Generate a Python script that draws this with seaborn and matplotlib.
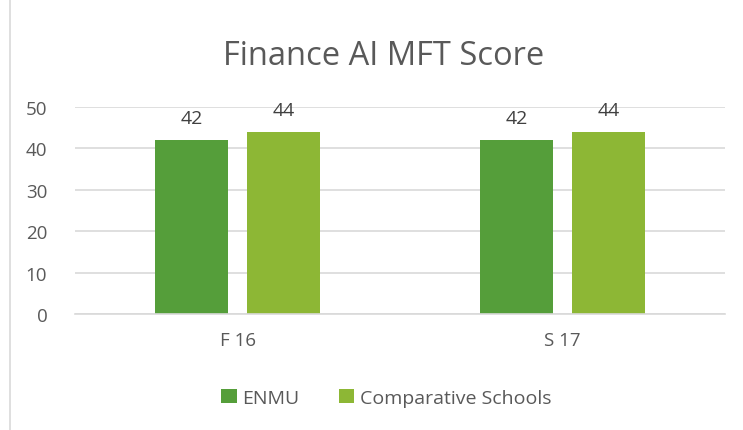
import pandas as pd
import numpy as np
import matplotlib
matplotlib.use('Agg')
import matplotlib.pyplot as plt
import seaborn as sns

# data
terms = ['F 16', 'S 17']
groups = ['ENMU', 'Comparative Schools']
enmu = [42, 42]
comparative = [44, 44]

df = pd.DataFrame({
    'Term': terms * 2,
    'Group': [groups[0]] * len(terms) + [groups[1]] * len(terms),
    'Score': enmu + comparative,
})

sns.set_theme(style='white')
plt.rcParams['font.family'] = ['Open Sans', 'DejaVu Sans']
txt = '#595959'

fig = plt.figure(figsize=(7.43, 4.31), dpi=100)
ax = fig.add_axes([0.101, 0.269, 0.875, 0.481])

sns.barplot(data=df, x='Term', y='Score', hue='Group', ax=ax,
            palette=['#559E3A', '#8DB735'], width=0.566, gap=0.205,
            saturation=1, edgecolor='none')

for c in ax.containers:
    ax.bar_label(c, fmt='%d', padding=9, fontsize=14, color='#404040')

ax.set_ylim(0, 50)
ax.set_xlim(-0.5, 1.5)
ax.set_yticks(range(0, 51, 10))
ax.yaxis.grid(True, color='#d9d9d9', linewidth=1.2)
ax.set_axisbelow(True)
for s in ['top', 'right', 'left']:
    ax.spines[s].set_visible(False)
ax.spines['bottom'].set_color('#d9d9d9')
ax.spines['bottom'].set_linewidth(1.2)
ax.set_xlabel('')
ax.set_ylabel('')
ax.tick_params(axis='both', length=0, labelsize=13.5, colors=txt)
ax.tick_params(axis='x', pad=12)
ax.tick_params(axis='y', pad=20)

fig.text(0.516, 0.87, 'Finance AI MFT Score', ha='center', va='center',
         fontsize=23.5, color=txt)

ax.legend(loc='center', bbox_to_anchor=(0.52, 0.075), bbox_transform=fig.transFigure,
          ncol=2, frameon=False, fontsize=14, labelcolor=txt,
          handlelength=0.8, handleheight=0.8, handletextpad=0.3, columnspacing=2.0)

fig.patches.append(plt.Rectangle((0.013, -0.01), 0.99, 1.02, transform=fig.transFigure,
                                 fill=False, edgecolor='#d9d9d9', linewidth=1.2))

plt.savefig('out.png', dpi=100)
